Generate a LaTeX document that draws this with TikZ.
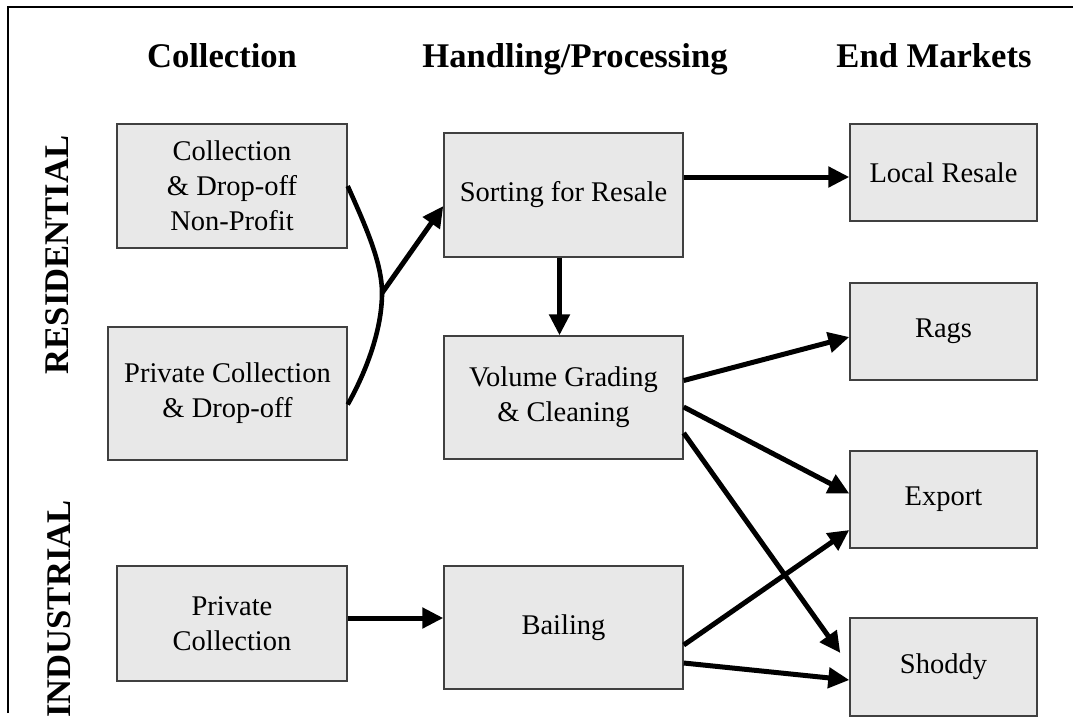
\documentclass[tikz,border=0pt]{standalone}
\usepackage{fontspec}
\setmainfont{Liberation Serif}
\usetikzlibrary{arrows.meta,calc}
\definecolor{boxfill}{HTML}{E8E8E8}
\definecolor{boxline}{HTML}{404040}
\begin{document}
\begin{tikzpicture}[x=1pt,y=-1pt,
  box/.style={draw=boxline, fill=boxfill, line width=1.4pt, align=center,
    inner sep=0pt, font=\fontsize{28.5}{35}\selectfont},
  head/.style={anchor=base, font=\fontsize{34.6}{40}\selectfont\bfseries},
  side/.style={rotate=90, inner sep=0pt, font=\fontsize{34.6}{40}\selectfont\bfseries},
  arr/.style={line width=5pt, -{Triangle[length=21pt,width=20pt]}},
  link/.style={line width=4.6pt}]
\useasboundingbox (0,0) rectangle (1073,721);
\draw[line width=1.4pt] (8,713) -- (8,7) -- (1073,7);

% headers
\node[head] (h1) at (222,67) {Collection};
\node[head] (h2) at (575,67) {Handling/Processing};
\node[head] (h3) at (934,67) {End Markets};

% side labels
\node[side] (res) at (57,255) {RESIDENTIAL};
\node[side] (ind) at (59,609) {INDUSTRIAL};

% collection
\node[box, minimum width=230pt, minimum height=124pt] (b1) at (232,186)
  {Collection\\ \& Drop-off\\ Non-Profit};
\node[box, minimum width=239pt, minimum height=133pt] (b2) at (227.5,393.5)
  {Private Collection\\ \& Drop-off};
\node[box, minimum width=230pt, minimum height=115pt] (pc) at (232,623.5)
  {Private\\ Collection};

% handling
\node[box, minimum width=239pt, minimum height=124pt] (s) at (563.5,195)
  {Sorting for Resale};
\node[box, minimum width=239pt, minimum height=123pt] (v) at (563.5,397.5)
  {Volume Grading\\ \& Cleaning};
\node[box, minimum width=239pt, minimum height=123pt] (bl) at (563.5,627.5)
  {Bailing};

% end markets
\node[box, minimum width=187pt, minimum height=97pt] (lr) at (943.5,172.5) {Local Resale};
\node[box, minimum width=187pt, minimum height=97pt] (rg) at (943.5,331.5) {Rags};
\node[box, minimum width=187pt, minimum height=97pt] (ex) at (943.5,499.5) {Export};
\node[box, minimum width=187pt, minimum height=98pt] (sh) at (943.5,667) {Shoddy};

% merging curve
\coordinate (j) at (382,293);
\coordinate (b2e) at ($(b2.east)+(0,11)$);
\draw[link] (b1.east) .. controls (365,225) and (382,262) .. (j)
  .. controls (382,330) and (366,372) .. (b2e);
\draw[arr] (j) -- ($(s.west)+(0,11)$);

% connectors
\draw[arr] ($(s.east)+(0,-18)$) -- ($(lr.west)+(0,4.5)$);
\draw[arr] ($(s.south)+(-4,0)$) -- ($(v.north)+(-4,0)$);
\draw[arr] ($(v.east)+(0,-17)$) -- ($(rg.west)+(0,5.5)$);
\draw[arr] ($(v.east)+(0,9.5)$) -- ($(ex.west)+(0,-6)$);
\draw[arr] ($(v.east)+(0,35.5)$) -- ($(sh.west)+(-9,-14)$);
\draw[arr] ($(pc.east)+(0,-5.5)$) -- ($(bl.west)+(0,-9.5)$);
\draw[arr] ($(bl.east)+(0,17.5)$) -- ($(ex.west)+(0,30.5)$);
\draw[arr] ($(bl.east)+(0,35.5)$) -- ($(sh.west)+(0,13)$);
\end{tikzpicture}
\end{document}
